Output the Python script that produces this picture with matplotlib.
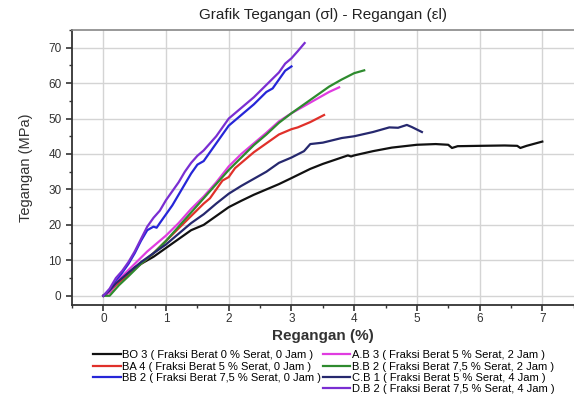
import matplotlib
matplotlib.use("Agg")
import matplotlib.pyplot as plt
from matplotlib.lines import Line2D
from matplotlib.ticker import MultipleLocator

plt.rcParams['font.family'] = ['Liberation Sans', 'DejaVu Sans']

# strain (%) / stress (MPa)
bo3_x = [0, 0.1, 0.3, 0.5, 0.7, 0.8, 1.0, 1.2, 1.4, 1.6, 1.8, 2.0, 2.2, 2.4, 2.6, 2.8, 3.0, 3.3, 3.5,
         3.8, 3.9, 3.95, 4.0, 4.3, 4.6, 5.0, 5.3, 5.5, 5.56, 5.65, 6.0, 6.4, 6.6, 6.65, 6.75, 7.0]
bo3_y = [0, 1.5, 5, 8, 10, 11, 13.5, 16, 18.5, 20, 22.5, 25, 26.8, 28.5, 30, 31.5, 33.2, 35.8, 37.2,
         39, 39.6, 39.3, 39.6, 40.8, 41.8, 42.6, 42.8, 42.6, 41.7, 42.2, 42.3, 42.4, 42.3, 41.7, 42.3, 43.5]

ba4_x = [0, 0.1, 0.2, 0.4, 0.6, 0.8, 1.0, 1.2, 1.4, 1.6, 1.7, 1.8, 1.9, 2.0, 2.1, 2.2, 2.4, 2.6, 2.8,
         3.0, 3.1, 3.3, 3.52]
ba4_y = [0, 1, 3, 6, 9, 12, 15.5, 19, 22.5, 26, 27.5, 30, 32.5, 33.5, 36, 37.5, 40.5, 43, 45.5,
         47, 47.5, 49, 51]

bb2_x = [0, 0.1, 0.2, 0.3, 0.4, 0.5, 0.6, 0.7, 0.8, 0.85, 0.9, 1.0, 1.1, 1.2, 1.3, 1.4, 1.5, 1.6, 1.7,
         1.8, 1.9, 2.0, 2.2, 2.4, 2.6, 2.7, 2.8, 2.9, 3.0]
bb2_y = [0, 1.5, 4, 6.5, 9, 12, 15.5, 18.5, 19.5, 19.2, 20.5, 23, 25.5, 28.5, 31.5, 34.5, 37, 38, 40.5,
         43, 45.5, 48, 51, 54, 57.5, 58.5, 61, 63.5, 64.7]

ab3_x = [0, 0.1, 0.2, 0.3, 0.5, 0.7, 1.0, 1.2, 1.4, 1.6, 1.8, 2.0, 2.2, 2.4, 2.6, 2.8, 3.0, 3.2, 3.4,
         3.6, 3.76]
ab3_y = [0, 1, 3.5, 5.5, 9, 12.5, 17, 20.5, 24.5, 28, 32, 36.5, 40, 43, 46, 49.2, 51.5, 53.5, 55.5,
         57.5, 58.8]

bb2b_x = [0, 0.1, 0.15, 0.25, 0.4, 0.6, 0.8, 1.0, 1.2, 1.4, 1.6, 1.8, 2.0, 2.2, 2.4, 2.6, 2.8, 3.0,
          3.2, 3.4, 3.6, 3.8, 4.0, 4.16]
bb2b_y = [0, 0, 1, 3, 5.5, 9, 12, 15.5, 19.5, 23.5, 27.5, 31.5, 35.5, 39, 42.5, 45.5, 48.8, 51.5,
          54, 56.5, 59, 61, 62.8, 63.6]

cb1_x = [0, 0.1, 0.2, 0.4, 0.6, 0.8, 1.0, 1.2, 1.4, 1.6, 1.8, 2.0, 2.2, 2.4, 2.6, 2.8, 3.0, 3.2, 3.3,
         3.5, 3.8, 4.0, 4.3, 4.56, 4.7, 4.84, 4.92, 5.08]
cb1_y = [0, 1.5, 3.5, 6.5, 9.5, 12, 14.5, 17.5, 20.5, 23, 26, 28.8, 31, 33, 35, 37.5, 39, 40.8, 42.8,
         43.2, 44.5, 45, 46.2, 47.5, 47.4, 48.2, 47.6, 46.2]

db2_x = [0, 0.1, 0.2, 0.3, 0.4, 0.5, 0.6, 0.7, 0.8, 0.9, 1.0, 1.1, 1.2, 1.3, 1.4, 1.5, 1.6, 1.7, 1.8,
         1.9, 2.0, 2.2, 2.4, 2.6, 2.8, 2.9, 3.0, 3.1, 3.21]
db2_y = [0, 2, 5, 7, 9.5, 12.5, 16, 19.5, 22, 24, 27, 29.5, 32, 35, 37.5, 39.5, 41, 43, 45,
         47.5, 50, 53, 56, 59.5, 63, 65.5, 67, 69, 71.3]

labels = ['BO 3 ( Fraksi Berat 0 % Serat, 0 Jam )',
          'BA 4 ( Fraksi Berat 5 % Serat, 0 Jam )',
          'BB 2 ( Fraksi Berat 7,5 % Serat, 0 Jam )',
          'A.B 3 ( Fraksi Berat 5 % Serat, 2 Jam )',
          'B.B 2 ( Fraksi Berat 7,5 % Serat, 2 Jam )',
          'C.B 1 ( Fraksi Berat 5 % Serat, 4 Jam )',
          'D.B 2 ( Fraksi Berat 7,5 % Serat, 4 Jam )']
colors = ['#111111', '#e0302a', '#2626d8', '#e03ce0', '#2e8b2e', '#26286e', '#7a2ed2']
xs = [bo3_x, ba4_x, bb2_x, ab3_x, bb2b_x, cb1_x, db2_x]
ys = [bo3_y, ba4_y, bb2_y, ab3_y, bb2b_y, cb1_y, db2_y]

fig = plt.figure(figsize=(5.74, 3.99), dpi=100)
ax = fig.add_axes([0.1254, 0.2356, 0.874, 0.6894])

lines = []
for x, y, c, lab in zip(xs, ys, colors, labels):
    ln, = ax.plot(x, y, color=c, lw=1.6, label=lab, zorder=3)
    lines.append(ln)

ax.set_xlim(-0.5, 7.5)
ax.set_ylim(-2.6, 75)
ax.xaxis.set_major_locator(MultipleLocator(1))
ax.xaxis.set_minor_locator(MultipleLocator(0.5))
ax.yaxis.set_major_locator(MultipleLocator(10))
ax.yaxis.set_minor_locator(MultipleLocator(5))
ax.grid(True, which='major', color='#d4d4d4', lw=1.0, zorder=0)

for s in ['left', 'bottom']:
    ax.spines[s].set_color('#333333')
    ax.spines[s].set_linewidth(1.3)
ax.spines['top'].set_color('#888888')
ax.spines['top'].set_linewidth(1.2)
ax.spines['right'].set_visible(False)
ax.tick_params(which='major', direction='out', length=4, width=1.2, colors='#333333', labelsize=8.5)
ax.tick_params(which='minor', direction='out', length=2.5, width=1.0, colors='#333333')
ax.tick_params(axis='x', pad=2)

ax.set_title('Grafik Tegangan (σl) - Regangan (εl)', fontsize=11, color='#222222', pad=8)
ax.set_xlabel('Regangan (%)', fontsize=11, fontweight='bold', color='#333333', labelpad=3)
ax.set_ylabel('Tegangan (MPa)', fontsize=10.5, color='#333333', labelpad=11)

# blank slot so the left column has 3 entries and the right one 4
blank = Line2D([], [], color='none')
handles = lines[:3] + [blank] + lines[3:]
leg_labels = labels[:3] + [''] + labels[3:]
fig.legend(handles, leg_labels, ncol=2, loc='upper left', bbox_to_anchor=(0.162, 0.122),
           frameon=False, fontsize=8, handlelength=2.5, handletextpad=0.15, columnspacing=0.1,
           labelspacing=0.12, borderaxespad=0, borderpad=0)

fig.savefig('out.png', dpi=100)
